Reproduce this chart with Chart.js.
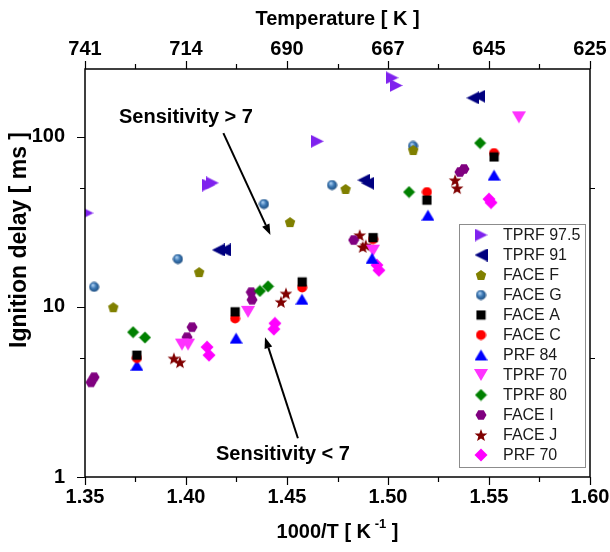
<!DOCTYPE html>
<html>
<head>
<meta charset="utf-8">
<script src="https://cdn.jsdelivr.net/npm/chart.js@4.4.1/dist/chart.umd.min.js"></script>
<style>
  html, body { margin: 0; padding: 0; background: #fff; }
  canvas { display: block; }
</style>
</head>
<body>
<canvas id="chart" width="610" height="552"></canvas>
<script>
// ignition delay vs inverse temperature, one series per fuel
const seriesNames = ['TPRF 97.5', 'TPRF 91', 'FACE F', 'FACE G', 'FACE A', 'FACE C',
                     'PRF 84', 'TPRF 70', 'TPRF 80', 'FACE I', 'FACE J', 'PRF 70'];

const tprf975X = [1.351, 1.411, 1.413, 1.465, 1.502, 1.504];
const tprf975Y = [35.6, 52, 53.5, 94, 222, 200];
const tprf91X = [1.416, 1.419, 1.488, 1.490, 1.542, 1.545];
const tprf91Y = [21.6, 21.6, 55.6, 53.3, 169, 173];
const faceFX = [1.364, 1.4065, 1.4515, 1.479, 1.5125];
const faceFY = [9.95, 16.0, 31.5, 49.3, 83.5];
const faceGX = [1.3545, 1.396, 1.4386, 1.4723, 1.5124];
const faceGY = [13.1, 19.1, 40.2, 52, 88.2];
const faceAX = [1.3757, 1.4243, 1.4575, 1.4926, 1.5193, 1.5525];
const faceAY = [5.2, 9.35, 14.0, 25.5, 42.4, 76];
const faceCX = [1.3757, 1.4243, 1.4575, 1.4926, 1.5193, 1.5525];
const faceCY = [5.0, 8.55, 13.0, 25.0, 47.3, 80.2];
const prf84X = [1.3757, 1.4248, 1.4574, 1.4921, 1.5198, 1.5525];
const prf84Y = [4.54, 6.55, 11.1, 19.3, 34.6, 59.5];
const tprf70X = [1.398, 1.401, 1.4307, 1.4926, 1.5648];
const tprf70Y = [6.0, 6.0, 9.35, 21.4, 130];
const tprf80X = [1.3738, 1.3797, 1.4366, 1.4406, 1.5104, 1.5456];
const tprf80Y = [7.1, 6.6, 12.4, 13.2, 47.3, 91.8];
const faceIX = [1.353, 1.3545, 1.4005, 1.403, 1.4323, 1.4327, 1.483, 1.5356, 1.5376];
const faceIY = [3.6, 3.86, 6.63, 7.6, 12.2, 11.0, 24.7, 62, 64.6];
const faceJX = [1.394, 1.397, 1.447, 1.4495, 1.486, 1.4875, 1.489, 1.5332, 1.5342];
const faceJY = [4.98, 4.73, 10.7, 12.0, 26.4, 22.5, 23, 55.6, 49.9];
const prf70X = [1.4104, 1.4114, 1.4435, 1.444, 1.4945, 1.4955, 1.550, 1.551];
const prf70Y = [5.8, 5.2, 7.4, 8.0, 17.6, 16.4, 43, 41];

const xTickValues = [1.35, 1.40, 1.45, 1.50, 1.55, 1.60];
const xTickLabels = ['1.35', '1.40', '1.45', '1.50', '1.55', '1.60'];
const xMinorValues = [1.375, 1.425, 1.475, 1.525, 1.575];
const topTickLabels = ['741', '714', '690', '667', '645', '625'];
const yTickValues = [1, 10, 100];
const yTickLabels = ['1', '10', '100'];
const yMinorValues = [5, 50];

const FONT = "'Liberation Sans', Arial, sans-serif";

// small canvases used as point styles (and reused by the legend)
function makeMarker(shape, color, size) {
  const c = document.createElement('canvas');
  c.width = size; c.height = size;
  const g = c.getContext('2d');
  const m = size / 2;
  g.fillStyle = color;
  g.beginPath();
  if (shape === 'right' || shape === 'left' || shape === 'up' || shape === 'down') {
    const h = size * 0.5;
    const pts = { right: [[m - h, m - h], [m + h, m], [m - h, m + h]],
                  left:  [[m + h, m - h], [m - h, m], [m + h, m + h]],
                  up:    [[m - h, m + h * 0.85], [m, m - h * 0.85], [m + h, m + h * 0.85]],
                  down:  [[m - h, m - h * 0.85], [m, m + h * 0.85], [m + h, m - h * 0.85]] }[shape];
    g.moveTo(pts[0][0], pts[0][1]);
    g.lineTo(pts[1][0], pts[1][1]);
    g.lineTo(pts[2][0], pts[2][1]);
  } else if (shape === 'square') {
    g.rect(m - size * 0.42, m - size * 0.42, size * 0.84, size * 0.84);
  } else if (shape === 'circle') {
    g.arc(m, m, m - 0.5, 0, Math.PI * 2);
  } else if (shape === 'diamond') {
    g.moveTo(m, 0.5); g.lineTo(size - 0.5, m); g.lineTo(m, size - 0.5); g.lineTo(0.5, m);
  } else if (shape === 'pentagon' || shape === 'hexagon') {
    const n = shape === 'pentagon' ? 5 : 6;
    const r = m - 0.5;
    for (let i = 0; i < n; i++) {
      const a = -Math.PI / 2 + i * 2 * Math.PI / n + (n === 6 ? Math.PI / 6 : 0);
      const px = m + r * Math.cos(a), py = m + r * Math.sin(a) + (n === 5 ? r * 0.1 : 0);
      if (i === 0) g.moveTo(px, py); else g.lineTo(px, py);
    }
  } else if (shape === 'star') {
    const ro = m - 0.3, ri = ro * 0.42;
    for (let i = 0; i < 10; i++) {
      const a = -Math.PI / 2 + i * Math.PI / 5;
      const r = i % 2 ? ri : ro;
      const px = m + r * Math.cos(a), py = m + r * Math.sin(a) + ro * 0.1;
      if (i === 0) g.moveTo(px, py); else g.lineTo(px, py);
    }
  } else if (shape === 'sphere') {
    const grad = g.createRadialGradient(m * 0.75, m * 0.65, 0.5, m, m, m);
    grad.addColorStop(0, '#a9cdf0');
    grad.addColorStop(0.45, color);
    grad.addColorStop(1, '#1d4a7a');
    g.fillStyle = grad;
    g.arc(m, m, m - 0.5, 0, Math.PI * 2);
  }
  g.closePath();
  g.fill();
  return c;
}

const markers = [
  makeMarker('right', '#7f22ee', 13),
  makeMarker('left', '#000080', 13),
  makeMarker('pentagon', '#808000', 12),
  makeMarker('sphere', '#3c78b4', 11),
  makeMarker('square', '#000000', 11),
  makeMarker('circle', '#ff0000', 11),
  makeMarker('up', '#0000ff', 13),
  makeMarker('down', '#ff33ff', 14),
  makeMarker('diamond', '#008000', 13),
  makeMarker('hexagon', '#800080', 12),
  makeMarker('star', '#800000', 14),
  makeMarker('diamond', '#ff00ff', 14)
];

const xs = [tprf975X, tprf91X, faceFX, faceGX, faceAX, faceCX, prf84X, tprf70X, tprf80X, faceIX, faceJX, prf70X];
const ys = [tprf975Y, tprf91Y, faceFY, faceGY, faceAY, faceCY, prf84Y, tprf70Y, tprf80Y, faceIY, faceJY, prf70Y];

const datasets = seriesNames.map((name, i) => ({
  label: name,
  data: xs[i].map((x, j) => ({ x: x, y: ys[i][j] })),
  pointStyle: markers[i],
  pointRadius: 6,
  showLine: false
}));

// frame, outward tick marks, axis titles, arrows and the legend box
const decorations = {
  id: 'decorations',
  afterDraw(chart) {
    const ctx = chart.ctx;
    const a = chart.chartArea;
    const sx = chart.scales.x, sy = chart.scales.y;
    ctx.save();
    ctx.strokeStyle = '#000';
    ctx.lineWidth = 1.5;
    ctx.strokeRect(a.left, a.top, a.right - a.left, a.bottom - a.top);

    ctx.lineWidth = 1.2;
    ctx.beginPath();
    xTickValues.forEach(v => {
      const px = Math.round(sx.getPixelForValue(v)) + 0.5;
      ctx.moveTo(px, a.bottom); ctx.lineTo(px, a.bottom + 8);
      ctx.moveTo(px, a.top); ctx.lineTo(px, a.top - 8);
    });
    xMinorValues.forEach(v => {
      const px = Math.round(sx.getPixelForValue(v)) + 0.5;
      ctx.moveTo(px, a.bottom); ctx.lineTo(px, a.bottom + 5);
      ctx.moveTo(px, a.top); ctx.lineTo(px, a.top - 5);
    });
    yTickValues.forEach(v => {
      const py = Math.round(sy.getPixelForValue(v)) + 0.5;
      ctx.moveTo(a.left, py); ctx.lineTo(a.left - 8, py);
    });
    yMinorValues.forEach(v => {
      const py = Math.round(sy.getPixelForValue(v)) + 0.5;
      ctx.moveTo(a.left, py); ctx.lineTo(a.left - 5, py);
      ctx.moveTo(a.right, py); ctx.lineTo(a.right + 5, py);
    });
    ctx.stroke();

    // axis titles
    ctx.fillStyle = '#000';
    ctx.font = 'bold 20px ' + FONT;
    ctx.textBaseline = 'middle';
    const cx = (a.left + a.right) / 2;
    ctx.textAlign = 'center';
    ctx.fillText('Temperature [ K ]', cx, 19);
    const main = '1000/T [ K', tail = ' ]';
    ctx.font = 'bold 20px ' + FONT;
    const w1 = ctx.measureText(main).width;
    const w3 = ctx.measureText(tail).width;
    ctx.font = 'bold 13px ' + FONT;
    const w2 = ctx.measureText(' -1').width;
    const start = cx - (w1 + w2 + w3) / 2;
    ctx.textAlign = 'left';
    ctx.font = 'bold 20px ' + FONT;
    ctx.fillText(main, start, 532);
    ctx.fillText(tail, start + w1 + w2, 532);
    ctx.font = 'bold 13px ' + FONT;
    ctx.fillText(' -1', start + w1, 524);

    ctx.save();
    ctx.font = 'bold 23px ' + FONT;
    ctx.translate(20, 240);
    ctx.rotate(-Math.PI / 2);
    ctx.textAlign = 'center';
    ctx.fillText('Ignition delay [ ms ]', 0, 0);
    ctx.restore();

    // sensitivity annotations
    ctx.font = 'bold 20px ' + FONT;
    ctx.textAlign = 'center';
    ctx.fillText('Sensitivity > 7', sx.getPixelForValue(1.4), sy.getPixelForValue(129));
    ctx.fillText('Sensitivity < 7', sx.getPixelForValue(1.448), sy.getPixelForValue(1.36));
    drawArrow(ctx, sx.getPixelForValue(1.4185), sy.getPixelForValue(105),
                   sx.getPixelForValue(1.4418), sy.getPixelForValue(26.4));
    drawArrow(ctx, sx.getPixelForValue(1.4554), sy.getPixelForValue(1.69),
                   sx.getPixelForValue(1.4391), sy.getPixelForValue(6.63));

    // legend
    const bx = a.right - 131, by = 224, bw = 126, bh = 243;
    ctx.fillStyle = '#fff';
    ctx.fillRect(bx, by, bw, bh);
    ctx.strokeStyle = '#8c8c8c';
    ctx.lineWidth = 1;
    ctx.strokeRect(bx + 0.5, by + 0.5, bw, bh);
    ctx.font = '16px ' + FONT;
    ctx.fillStyle = '#1a1a1a';
    ctx.textAlign = 'left';
    chart.data.datasets.forEach((ds, i) => {
      const iy = by + 11 + i * 20;
      const img = ds.pointStyle;
      ctx.drawImage(img, bx + 22 - img.width / 2, iy - img.height / 2);
      ctx.fillText(ds.label, bx + 44, iy + 1);
    });
    ctx.restore();
  }
};

function drawArrow(ctx, x1, y1, x2, y2) {
  const ang = Math.atan2(y2 - y1, x2 - x1);
  const hl = 11, hw = 4;
  ctx.save();
  ctx.strokeStyle = '#000';
  ctx.fillStyle = '#000';
  ctx.lineWidth = 2;
  ctx.beginPath();
  ctx.moveTo(x1, y1);
  ctx.lineTo(x2 - hl * Math.cos(ang), y2 - hl * Math.sin(ang));
  ctx.stroke();
  ctx.beginPath();
  ctx.moveTo(x2, y2);
  ctx.lineTo(x2 - hl * Math.cos(ang) + hw * Math.sin(ang), y2 - hl * Math.sin(ang) - hw * Math.cos(ang));
  ctx.lineTo(x2 - hl * Math.cos(ang) - hw * Math.sin(ang), y2 - hl * Math.sin(ang) + hw * Math.cos(ang));
  ctx.closePath();
  ctx.fill();
  ctx.restore();
}

// fixed axis sizes, with no extra room for overhanging end labels
function fixSize(prop, size) {
  return s => {
    s[prop] = size;
    s.paddingLeft = 0; s.paddingRight = 0; s.paddingTop = 0; s.paddingBottom = 0;
  };
}

new Chart(document.getElementById('chart'), {
  type: 'scatter',
  data: { datasets: datasets },
  options: {
    responsive: false,
    animation: false,
    devicePixelRatio: 1,
    layout: { padding: { left: 0, right: 20, top: 0, bottom: 0 } },
    plugins: { legend: { display: false }, tooltip: { enabled: false } },
    scales: {
      x: {
        type: 'linear', position: 'bottom', min: 1.35, max: 1.60,
        afterBuildTicks: s => { s.ticks = xTickValues.map(v => ({ value: v })); },
        afterFit: fixSize('height', 75),
        grid: { display: false },
        border: { display: false },
        ticks: {
          padding: 0, color: '#000', font: { family: FONT, size: 20, weight: 'bold' },
          maxRotation: 0, autoSkip: false,
          callback: (v, i) => xTickLabels[i]
        }
      },
      x2: {
        type: 'linear', position: 'top', min: 1.35, max: 1.60,
        afterBuildTicks: s => { s.ticks = xTickValues.map(v => ({ value: v })); },
        afterFit: fixSize('height', 69),
        grid: { display: false },
        border: { display: false },
        ticks: {
          padding: 0, color: '#000', font: { family: FONT, size: 20, weight: 'bold' },
          maxRotation: 0, autoSkip: false,
          callback: (v, i) => topTickLabels[i]
        }
      },
      y: {
        type: 'logarithmic', min: 1, max: 250,
        afterBuildTicks: s => { s.ticks = yTickValues.map(v => ({ value: v })); },
        afterFit: fixSize('width', 85),
        grid: { display: false },
        border: { display: false },
        ticks: {
          padding: 12, color: '#000', font: { family: FONT, size: 20, weight: 'bold' },
          autoSkip: false,
          callback: (v, i) => yTickLabels[i]
        }
      }
    }
  },
  plugins: [decorations]
});
</script>
</body>
</html>
